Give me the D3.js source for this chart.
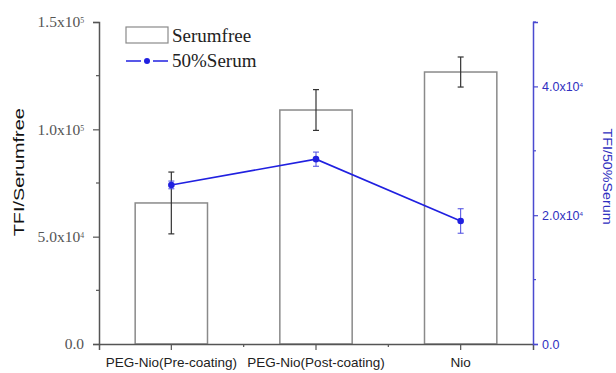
<!DOCTYPE html>
<html>
<head>
<meta charset="utf-8">
<script src="https://cdn.jsdelivr.net/npm/d3@7"></script>
<style>
  body { margin: 0; background: #fff; }
  svg { display: block; }
</style>
</head>
<body>
<div id="chart"></div>
<script>
const WIDTH = 616, HEIGHT = 373;
const margin = {top: 22, right: 83, bottom: 29, left: 99};

// data
const categories = ["PEG-Nio(Pre-coating)", "PEG-Nio(Post-coating)", "Nio"];
const serumfree = [65700, 109000, 126700];
const serumfreeErr = [14400, 9500, 7000];
const serum50 = [24700, 28700, 19100];
const serum50Err = [600, 1100, 1900];

const leftTicks = [0, 50000, 100000, 150000];
const leftMinor = [25000, 75000, 125000];
const rightTicks = [0, 20000, 40000];
const rightMinor = [10000, 30000, 50000];

const serif = "'Liberation Serif', 'Times New Roman', serif";
const sans = "'Liberation Sans', Arial, sans-serif";
const blue = "#2020e0";
const axisBlue = "#4a4ad0";
const grey = "#555";

let svg = d3.select("#chart")
    .append("svg")
    .attr("width", WIDTH)
    .attr("height", HEIGHT);

let plot_w = WIDTH - margin.left - margin.right;
let plot_h = HEIGHT - margin.top - margin.bottom;

let x = d3.scaleBand()
    .domain(categories)
    .range([margin.left, margin.left + plot_w])
    .padding(0);

let yLeft = d3.scaleLinear()
    .domain([0, 150000])
    .range([margin.top + plot_h, margin.top]);

let yRight = d3.scaleLinear()
    .domain([0, 50000])
    .range([margin.top + plot_h, margin.top]);

// splits "1.5x10^5" style labels into tspans
function sciLabel(sel, v) {
    sel.text(null);
    if (v === 0) { sel.text("0.0"); return; }
    let e = Math.floor(Math.log10(v));
    let m = (v / Math.pow(10, e)).toFixed(1);
    sel.append("tspan").text(m + "x10");
    sel.append("tspan").attr("dy", "-0.55em").style("font-size", "0.5em").text(e);
}

// bars
let barW = x.bandwidth() * 0.5;
svg.append("g").selectAll("rect")
    .data(serumfree)
    .enter()
    .append("rect")
    .attr("x", (d, i) => x(categories[i]) + (x.bandwidth() - barW) / 2)
    .attr("y", d => yLeft(d))
    .attr("width", barW)
    .attr("height", d => yLeft(0) - yLeft(d))
    .attr("fill", "#fff")
    .attr("stroke", "#8a8a8a")
    .attr("stroke-width", 1.5);

// bar error bars
let errG = svg.append("g").attr("stroke", "#333").attr("stroke-width", 1.2);
serumfree.forEach(function(v, i) {
    let cx = x(categories[i]) + x.bandwidth() / 2;
    let y0 = yLeft(v + serumfreeErr[i]), y1 = yLeft(v - serumfreeErr[i]);
    errG.append("line").attr("x1", cx).attr("x2", cx).attr("y1", y0).attr("y2", y1);
    errG.append("line").attr("x1", cx - 3).attr("x2", cx + 3).attr("y1", y0).attr("y2", y0);
    errG.append("line").attr("x1", cx - 3).attr("x2", cx + 3).attr("y1", y1).attr("y2", y1);
});

// bottom axis
let xAxis = svg.append("g")
    .attr("transform", `translate(0, ${yLeft(0)})`)
    .call(d3.axisBottom(x).tickSize(6).tickPadding(7));
xAxis.select(".domain").attr("stroke", grey).attr("stroke-width", 1.5);
xAxis.selectAll(".tick line").attr("stroke", grey).attr("stroke-width", 1.2);
xAxis.selectAll(".tick text")
    .style("font-family", sans)
    .style("font-size", "13.5px")
    .attr("fill", "#222");
// minor ticks between categories
xAxis.selectAll(".minor")
    .data(categories.slice(1))
    .enter()
    .append("line")
    .attr("x1", d => x(d)).attr("x2", d => x(d))
    .attr("y1", 0).attr("y2", 3)
    .attr("stroke", grey).attr("stroke-width", 1.2);

// left axis
let leftAxis = svg.append("g")
    .attr("transform", `translate(${margin.left}, 0)`)
    .call(d3.axisLeft(yLeft).tickValues(leftTicks).tickSize(6).tickPadding(9));
leftAxis.select(".domain").attr("stroke", grey).attr("stroke-width", 1.5);
leftAxis.selectAll(".tick line").attr("stroke", grey).attr("stroke-width", 1.2);
leftAxis.selectAll(".tick text")
    .style("font-family", serif)
    .style("font-size", "15.5px")
    .attr("fill", "#555")
    .each(function(d) { sciLabel(d3.select(this), d); });
leftAxis.selectAll(".minor")
    .data(leftMinor)
    .enter()
    .append("line")
    .attr("x1", -3).attr("x2", 0)
    .attr("y1", d => yLeft(d)).attr("y2", d => yLeft(d))
    .attr("stroke", grey).attr("stroke-width", 1.2);

// right axis
let rightX = margin.left + plot_w;
let rightAxis = svg.append("g")
    .attr("transform", `translate(${rightX}, 0)`)
    .call(d3.axisRight(yRight).tickValues(rightTicks).tickSize(5).tickPadding(4));
rightAxis.select(".domain").attr("stroke", axisBlue).attr("stroke-width", 1.5);
rightAxis.selectAll(".tick line").attr("stroke", axisBlue).attr("stroke-width", 1.2);
rightAxis.selectAll(".tick text")
    .style("font-family", sans)
    .style("font-size", "12.5px")
    .attr("fill", "#3030c0")
    .each(function(d) { sciLabel(d3.select(this), d); });
rightAxis.selectAll(".minor")
    .data(rightMinor)
    .enter()
    .append("line")
    .attr("x1", 0).attr("x2", 3)
    .attr("y1", d => yRight(d)).attr("y2", d => yRight(d))
    .attr("stroke", axisBlue).attr("stroke-width", 1.2);

// axis titles
svg.append("text")
    .attr("transform", `translate(24, ${yLeft(80000)}) rotate(-90)`)
    .style("text-anchor", "middle")
    .style("font-family", sans)
    .style("font-size", "14px")
    .attr("textLength", 128)
    .attr("lengthAdjust", "spacingAndGlyphs")
    .attr("fill", "#111")
    .text("TFI/Serumfree");

svg.append("text")
    .attr("transform", `translate(603, ${yRight(26000)}) rotate(90)`)
    .style("text-anchor", "middle")
    .style("font-family", sans)
    .style("font-size", "12.5px")
    .attr("textLength", 96)
    .attr("lengthAdjust", "spacingAndGlyphs")
    .attr("fill", "#3030c0")
    .text("TFI/50%Serum");

// 50% serum line
let line = d3.line()
    .x((d, i) => x(categories[i]) + x.bandwidth() / 2)
    .y(d => yRight(d));

svg.append("path")
    .datum(serum50)
    .attr("d", line)
    .attr("fill", "none")
    .attr("stroke", blue)
    .attr("stroke-width", 1.6);

let lineErr = svg.append("g").attr("stroke", "#4a4ae0").attr("stroke-width", 1);
serum50.forEach(function(v, i) {
    let cx = x(categories[i]) + x.bandwidth() / 2;
    let y0 = yRight(v + serum50Err[i]), y1 = yRight(v - serum50Err[i]);
    lineErr.append("line").attr("x1", cx).attr("x2", cx).attr("y1", y0).attr("y2", y1);
    lineErr.append("line").attr("x1", cx - 3).attr("x2", cx + 3).attr("y1", y0).attr("y2", y0);
    lineErr.append("line").attr("x1", cx - 3).attr("x2", cx + 3).attr("y1", y1).attr("y2", y1);
});

svg.append("g").selectAll("circle")
    .data(serum50)
    .enter()
    .append("circle")
    .attr("cx", (d, i) => x(categories[i]) + x.bandwidth() / 2)
    .attr("cy", d => yRight(d))
    .attr("r", 3.3)
    .attr("fill", blue);

// legend
let legend = svg.append("g").attr("transform", "translate(126, 27)");
legend.append("rect")
    .attr("width", 42).attr("height", 16)
    .attr("fill", "#fff").attr("stroke", "#8a8a8a").attr("stroke-width", 1.2);
legend.append("text")
    .attr("x", 46).attr("y", 15)
    .style("font-family", serif).style("font-size", "19px")
    .attr("fill", "#222")
    .text("Serumfree");
legend.append("line")
    .attr("x1", 0).attr("x2", 15).attr("y1", 34).attr("y2", 34)
    .attr("stroke", blue).attr("stroke-width", 1.5);
legend.append("line")
    .attr("x1", 27).attr("x2", 42).attr("y1", 34).attr("y2", 34)
    .attr("stroke", blue).attr("stroke-width", 1.5);
legend.append("circle")
    .attr("cx", 21).attr("cy", 34).attr("r", 3)
    .attr("fill", blue);
legend.append("text")
    .attr("x", 46).attr("y", 40)
    .style("font-family", serif).style("font-size", "19px")
    .attr("fill", "#222")
    .text("50%Serum");
</script>
</body>
</html>
